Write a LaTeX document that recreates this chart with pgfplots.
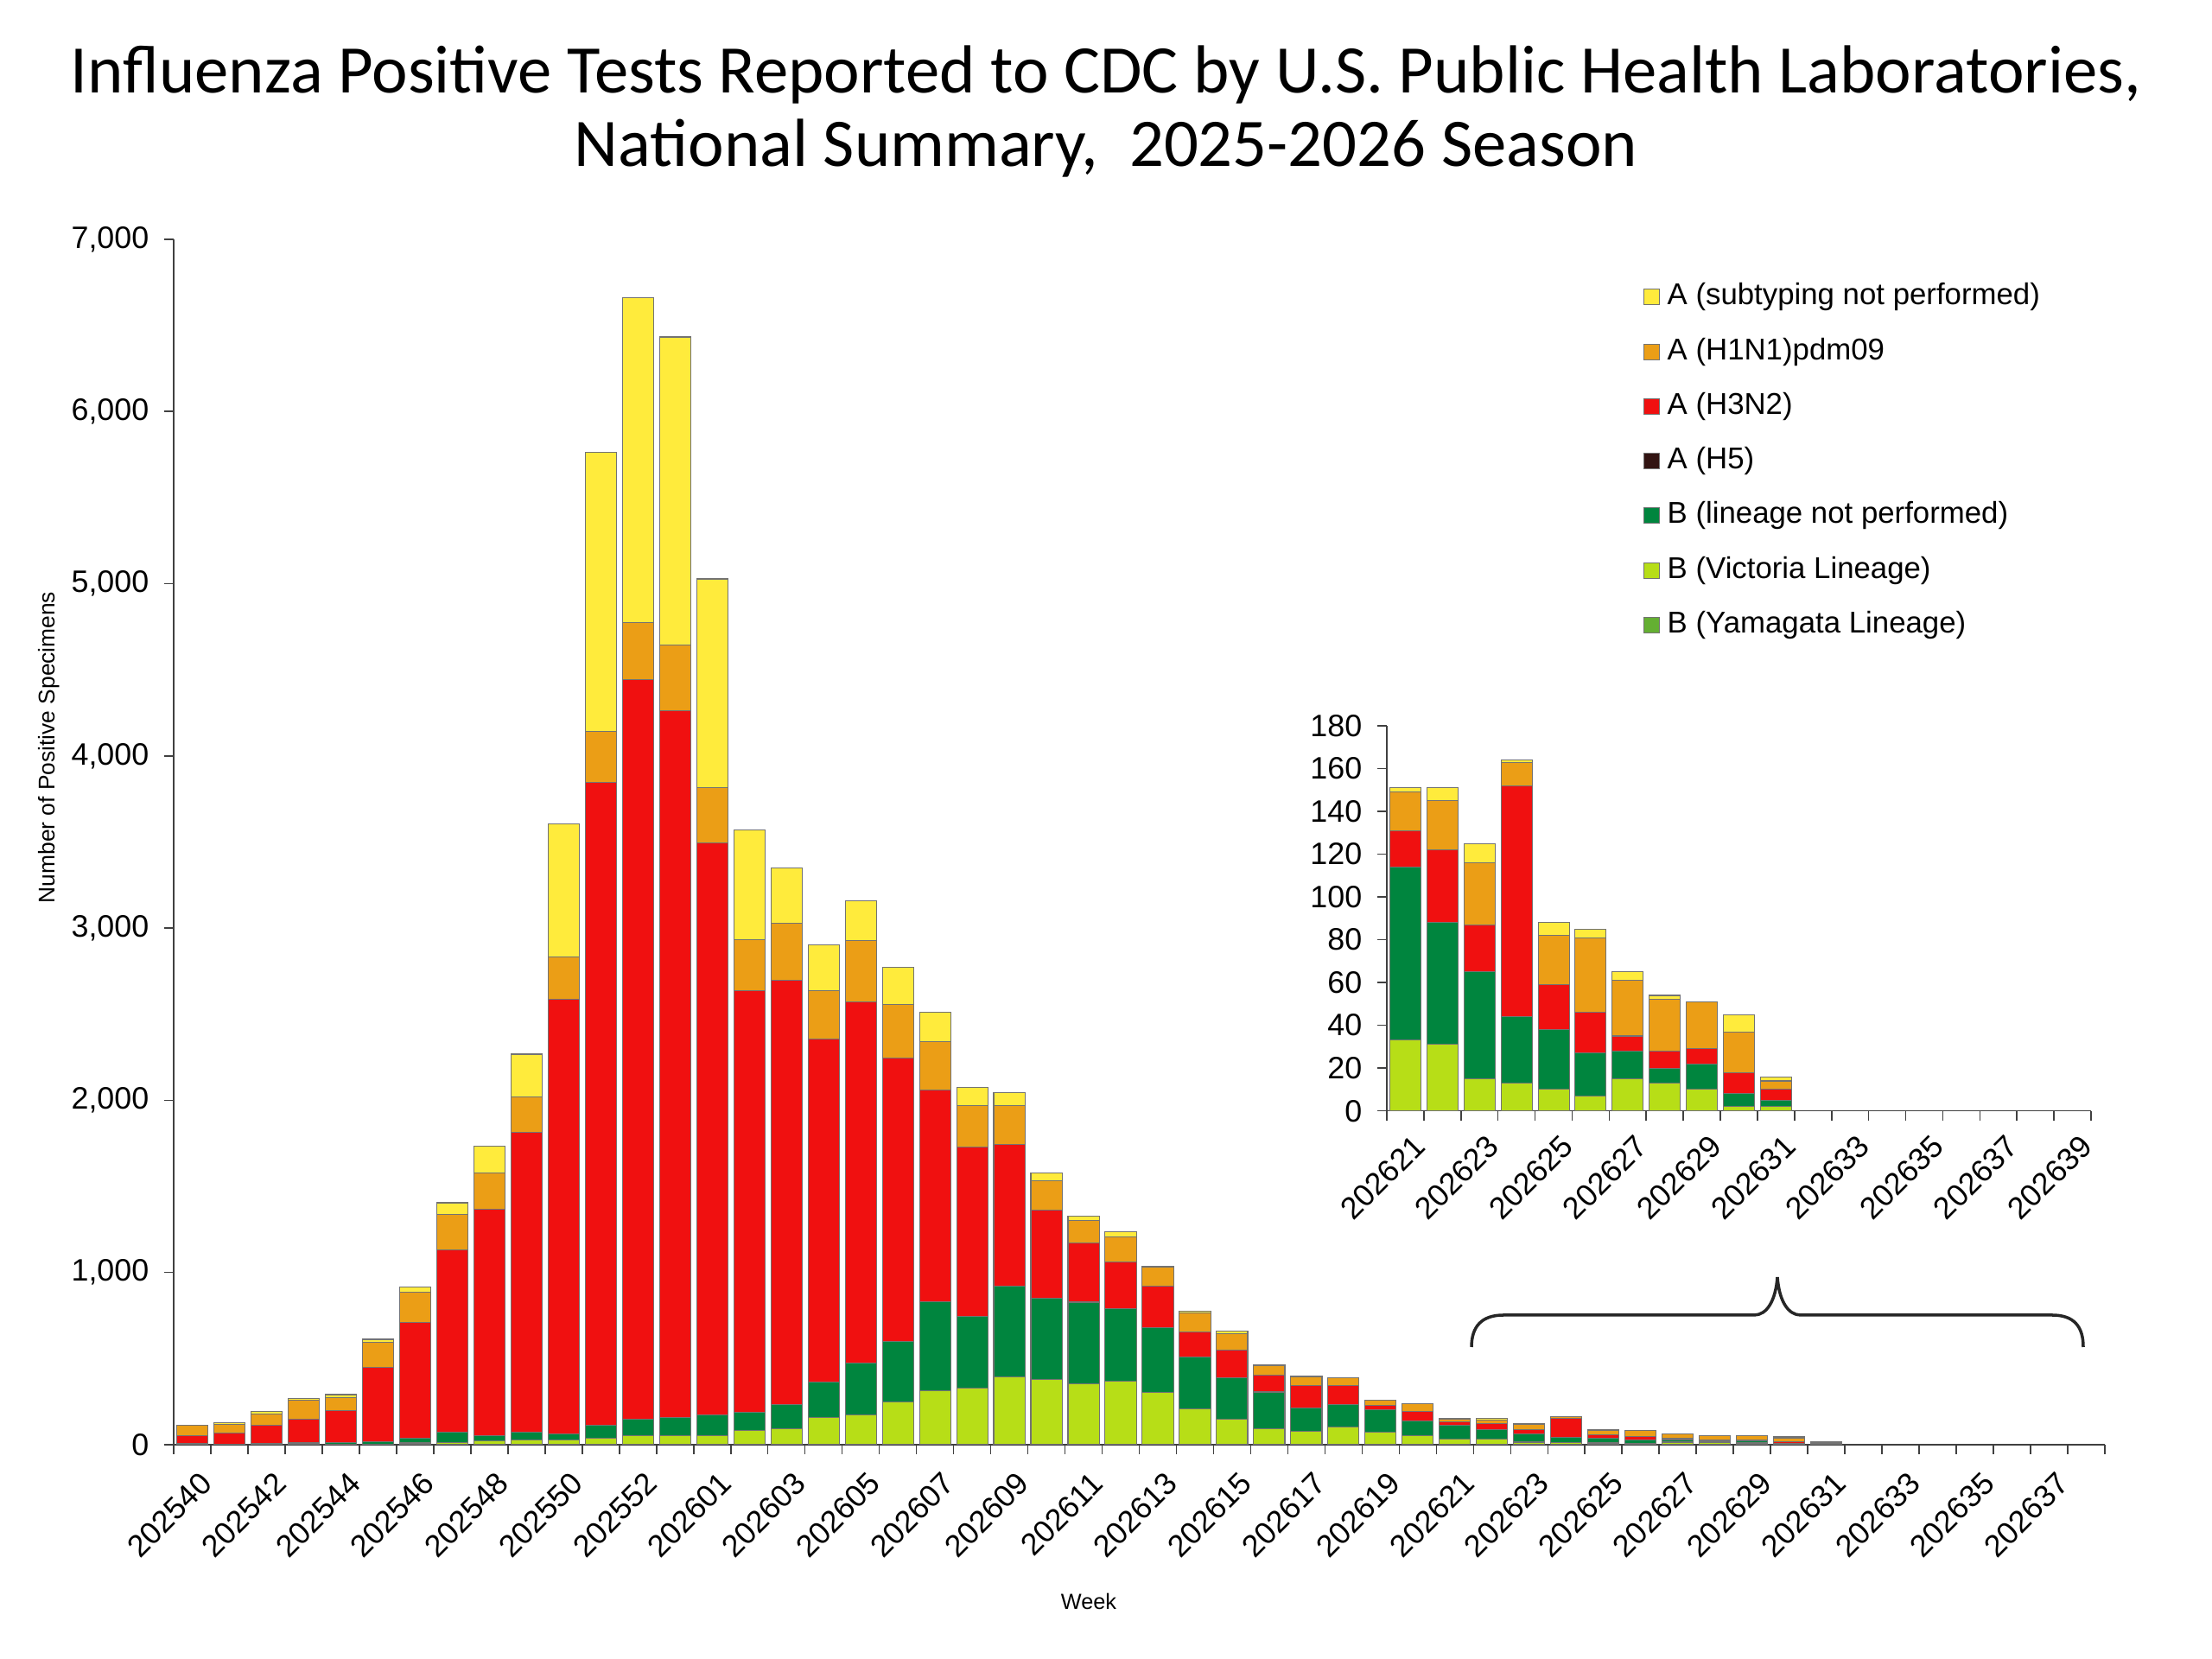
\documentclass[border=0pt]{standalone}
\usepackage{fontspec}
\setmainfont{Liberation Sans}
\newfontfamily\titlefont{Carlito}
\usepackage{pgfplots}
\usepackage{pgfplotstable}
\pgfplotsset{compat=1.18}

\definecolor{cUnsub}{RGB}{255,235,60}
\definecolor{cHone}{RGB}{235,158,22}
\definecolor{cHthree}{RGB}{240,16,16}
\definecolor{cHfive}{RGB}{50,20,18}
\definecolor{cBlin}{RGB}{0,133,62}
\definecolor{cVic}{RGB}{183,222,23}
\definecolor{cYam}{RGB}{100,175,50}

% weekly counts, stacked bottom to top: yam vic blin h5 h3 h1 aun
\pgfplotstableread{
x week   yam vic blin h5 h3   h1  aun
0 202540 0   2   6    0  44   59  3
1 202541 0   1   3    0  64   52  10
2 202542 0   2   6    0  104  67  12
3 202543 0   2   8    0  139  111 10
4 202544 0   2   10   0  184  77  18
5 202545 0   3   15   0  433  143 18
6 202546 0   10  27   0  673  176 32
7 202547 0   14  60   0  1058 204 69
8 202548 0   23  28   0  1317 209 158
9 202549 0   28  46   0  1740 208 246
10 202550 0  28  37   0  2523 246 770
11 202551 0  37  74   0  3734 297 1623
12 202552 0  51  97   0  4295 330 1887
13 202553 0  51  107  0  4105 380 1790
14 202601 0  51  121  0  3321 324 1211
15 202602 0  83  107  0  2445 296 640
16 202603 0  93  139  0  2467 330 320
17 202604 0  156 206  0  1996 279 265
18 202605 0  175 297  0  2099 358 229
19 202606 0  246 355  0  1645 310 216
20 202607 0  313 518  0  1228 282 172
21 202608 0  328 418  0  982  241 105
22 202609 0  392 531  0  823  223 77
23 202610 0  379 472  0  511  169 48
24 202611 0  354 474  0  344  131 25
25 202612 0  367 425  0  267  149 28
26 202613 0  303 376  0  242  110 7
27 202614 0  208 302  0  144  113 10
28 202615 0  149 241  0  159  97  16
29 202616 0  94  212  0  100  51  5
30 202617 0  77  137  0  128  52  3
31 202618 0  104 129  0  109  45  1
32 202619 0  74  130  0  22   30  4
33 202620 0  54  85   0  52   45  1
34 202621 0  33  81   0  17   18  2
35 202622 0  31  57   0  34   23  6
36 202623 0  15  50   0  22   29  9
37 202624 0  13  31   0  108  11  1
38 202625 0  10  28   0  21   23  6
39 202626 0  7   20   0  19   35  4
40 202627 0  15  13   0  7    26  4
41 202628 0  13  7    0  8    24  2
42 202629 0  10  12   0  7    22  0
43 202630 0  2   6    0  10   19  8
44 202631 0  2   3    0  5    4   2
}\maindata

\pgfplotstableread{
x week   yam vic blin h5 h3  h1 aun
0 202621 0   33  81   0  17  18 2
1 202622 0   31  57   0  34  23 6
2 202623 0   15  50   0  22  29 9
3 202624 0   13  31   0  108 11 1
4 202625 0   10  28   0  21  23 6
5 202626 0   7   20   0  19  35 4
6 202627 0   15  13   0  7   26 4
7 202628 0   13  7    0  8   24 2
8 202629 0   10  12   0  7   22 0
9 202630 0   2   6    0  10  19 8
10 202631 0  2   3    0  5   4  2
}\insetdata

\pgfplotsset{
  fluaxis/.style={
    scale only axis,
    ybar stacked,
    bar width=0.84,
    ymin=0,
    axis lines*=left,
    tick align=outside,
    major tick length=0.11cm,
    axis line style={black!75, line width=0.45pt},
    tick style={black!75, line width=0.45pt},
    ticklabel style={font=\fontsize{10.2}{12}\selectfont},
    /pgf/number format/assume math mode=true,
    /pgf/number format/1000 sep={,},
    yticklabel style={anchor=east, inner sep=0pt, xshift=-0.17cm},
    every axis plot/.append style={draw=black!55, line width=0.3pt},
  },
}

\begin{document}
\begin{tikzpicture}[x=1cm,y=1cm]
\path[use as bounding box] (0,0) rectangle (25.6,19.2);

\node[anchor=base, font=\titlefont\fontsize{22.4}{26}\selectfont] at (12.8,18.12)
  {Influenza Positive Tests Reported to CDC by U.S. Public Health Laboratories,};
\node[anchor=base, font=\titlefont\fontsize{22.4}{26}\selectfont] at (12.8,17.27)
  {National Summary,~ 2025-2026 Season};
\node[rotate=90, font=\fontsize{7.5}{9}\selectfont] at (0.57,10.55) {Number of Positive Specimens};
\node[font=\fontsize{7.2}{9}\selectfont] at (12.6,0.67) {Week};

\begin{axis}[
  fluaxis,
  at={(2.01cm,2.48cm)}, anchor=south west,
  width=22.35cm, height=13.95cm,
  xmin=-0.5, xmax=51.5,
  ymax=7000,
  ytick={0,1000,...,7000},
  xtick={-0.5,0.5,...,51.5},
  xticklabels={202540,{},202542,{},202544,{},202546,{},202548,{},202550,{},202552,{},
    202601,{},202603,{},202605,{},202607,{},202609,{},202611,{},202613,{},202615,{},
    202617,{},202619,{},202621,{},202623,{},202625,{},202627,{},202629,{},202631,{},
    202633,{},202635,{},202637,{},{}},
  xticklabel style={anchor=north east, inner sep=0pt, xshift=0.285cm, yshift=-0.18cm, rotate=45},
  reverse legend,
  legend cell align=left,
  legend image code/.code={\draw[#1] (0cm,-0.09cm) rectangle (0.18cm,0.09cm);},
  legend style={draw=none, fill=none, at={(0.7606,0.9645)}, anchor=north west,
    inner sep=0pt, font=\fontsize{9.9}{12}\selectfont, row sep=0.303cm,
    nodes={inner sep=0pt, text height=0.255cm, text depth=0.075cm},
    /tikz/every odd column/.append style={column sep=0.09cm}},
]
\addplot[fill=cYam] table[x=x,y=yam]{\maindata};
\addplot[fill=cVic] table[x=x,y=vic]{\maindata};
\addplot[fill=cBlin] table[x=x,y=blin]{\maindata};
\addplot[fill=cHfive] table[x=x,y=h5]{\maindata};
\addplot[fill=cHthree] table[x=x,y=h3]{\maindata};
\addplot[fill=cHone] table[x=x,y=h1]{\maindata};
\addplot[fill=cUnsub] table[x=x,y=aun]{\maindata};
\legend{B (Yamagata Lineage),B (Victoria Lineage),B (lineage not performed),A (H5),A (H3N2),A (H1N1)pdm09,A (subtyping not performed)}
\end{axis}

\begin{axis}[
  fluaxis,
  at={(16.05cm,6.343cm)}, anchor=south west,
  width=8.15cm, height=4.457cm,
  xmin=-0.5, xmax=18.5,
  ymax=180,
  ytick={0,20,...,180},
  xtick={-0.5,0.5,...,18.5},
  xticklabels={202621,{},202623,{},202625,{},202627,{},202629,{},202631,{},
    202633,{},202635,{},202637,{},202639,{}},
  xticklabel style={anchor=north east, inner sep=0pt, xshift=0.285cm, yshift=-0.14cm, rotate=45},
]
\addplot[fill=cYam] table[x=x,y=yam]{\insetdata};
\addplot[fill=cVic] table[x=x,y=vic]{\insetdata};
\addplot[fill=cBlin] table[x=x,y=blin]{\insetdata};
\addplot[fill=cHfive] table[x=x,y=h5]{\insetdata};
\addplot[fill=cHthree] table[x=x,y=h3]{\insetdata};
\addplot[fill=cHone] table[x=x,y=h1]{\insetdata};
\addplot[fill=cUnsub] table[x=x,y=aun]{\insetdata};
\end{axis}

% brace over the tail weeks shown in the inset
\draw[line width=1pt, black!85]
  (17.03,3.61) .. controls (17.03,3.85) and (17.15,3.98) .. (17.40,3.98)
  -- (20.30,3.98) .. controls (20.45,3.98) and (20.55,4.15) .. (20.57,4.42)
  .. controls (20.59,4.15) and (20.69,3.98) .. (20.84,3.98)
  -- (23.75,3.98) .. controls (24.00,3.98) and (24.11,3.85) .. (24.11,3.61);
\end{tikzpicture}
\end{document}
